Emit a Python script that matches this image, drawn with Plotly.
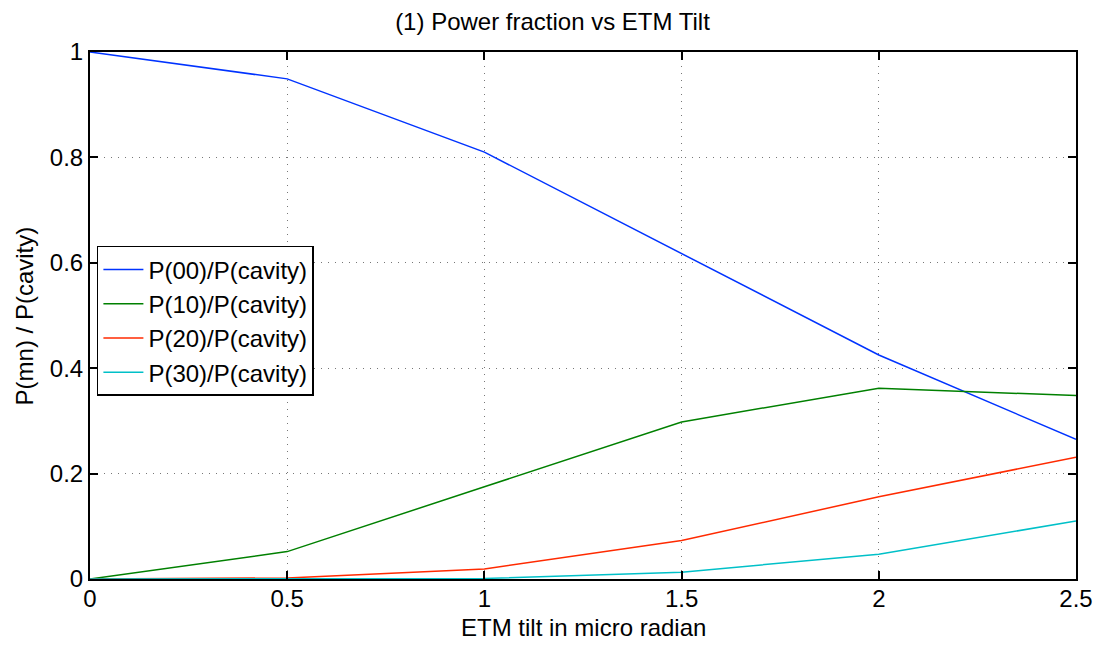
import plotly.graph_objects as go

tilt = [0, 0.5, 1, 1.5, 2, 2.5]
p00 = [1.0, 0.949, 0.810, 0.617, 0.425, 0.265]
p10 = [0.0, 0.052, 0.175, 0.298, 0.362, 0.348]
p20 = [0.0, 0.002, 0.019, 0.073, 0.156, 0.231]
p30 = [0.0, 0.0, 0.001, 0.013, 0.047, 0.110]
names = ["P(00)/P(cavity)", "P(10)/P(cavity)", "P(20)/P(cavity)", "P(30)/P(cavity)"]
colors = ["#0033ff", "#008000", "#ff2a00", "#00c0c8"]
xticks = [0, 0.5, 1, 1.5, 2, 2.5]
xticktext = ["0", "0.5", "1", "1.5", "2", "2.5"]
yticks = [0, 0.2, 0.4, 0.6, 0.8, 1]
yticktext = ["0", "0.2", "0.4", "0.6", "0.8", "1"]

fig = go.Figure()
for ys, n, c in zip([p00, p10, p20, p30], names, colors):
    fig.add_trace(go.Scatter(x=tilt, y=ys, mode="lines", name=n,
                             line=dict(color=c, width=1.5)))

font = "Liberation Sans, Arial, Helvetica, sans-serif"
FS = 24
axis_common = dict(
    showline=True, linecolor="black", linewidth=2, mirror="ticks",
    ticks="inside", ticklen=8, tickwidth=1.5, tickcolor="black",
    showgrid=True, gridcolor="#777777", griddash="1px,6px", gridwidth=1,
    zeroline=False, tickfont=dict(size=FS, color="black", family=font),
)
fig.update_layout(
    width=1105, height=645,
    margin=dict(l=90, r=26, t=52, b=66),
    paper_bgcolor="white", plot_bgcolor="white",
    font=dict(family=font, color="black"),
    title=dict(text="(1) Power fraction vs ETM Tilt", x=0.5, xanchor="center",
               y=0.966, yanchor="middle", font=dict(size=FS)),
    xaxis=dict(range=[0, 2.5], tickvals=xticks, ticktext=xticktext,
               ticklabelstandoff=-3, **axis_common),
    yaxis=dict(range=[0, 1], tickvals=yticks, ticktext=yticktext, **axis_common),
    legend=dict(x=0.007, y=0.632, xanchor="left", yanchor="top",
                bgcolor="white", bordercolor="black", borderwidth=1.5,
                font=dict(size=FS), tracegroupgap=0, itemwidth=40),
    showlegend=True,
    annotations=[
        dict(text="ETM tilt in micro radian", xref="paper", yref="paper",
             x=0.5, y=-0.092, xanchor="center", yanchor="middle",
             showarrow=False, font=dict(size=FS)),
        dict(text="P(mn) / P(cavity)", xref="paper", yref="paper",
             x=-0.066, y=0.5, xanchor="center", yanchor="middle", textangle=-90,
             showarrow=False, font=dict(size=FS)),
    ],
)
fig.write_html("out.html")
